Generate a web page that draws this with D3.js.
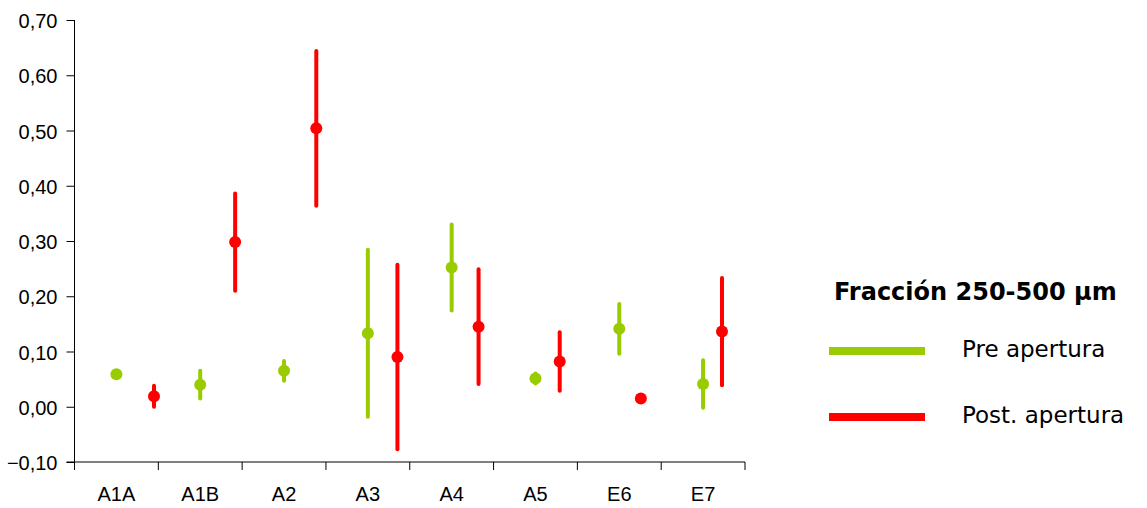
<!DOCTYPE html>
<html>
<head>
<meta charset="utf-8">
<script src="https://cdn.jsdelivr.net/npm/d3@7"></script>
<style>
  body { margin: 0; background: #fff; }
  svg { display: block; }
</style>
</head>
<body>
<div id="chart"></div>
<script>
// data
const categories = ["A1A", "A1B", "A2", "A3", "A4", "A5", "E6", "E7"];
const preMean  = [0.059, 0.040, 0.065, 0.133, 0.252, 0.051, 0.141, 0.041];
const preErr   = [0.004, 0.025, 0.018, 0.151, 0.078, 0.009, 0.045, 0.043];
const postMean = [0.019, 0.298, 0.504, 0.090, 0.145, 0.082, 0.015, 0.136];
const postErr  = [0.019, 0.088, 0.140, 0.167, 0.104, 0.053, 0.000, 0.097];
const yTicks = [-0.1, 0, 0.1, 0.2, 0.3, 0.4, 0.5, 0.6, 0.7];
const legendTitle = "Fracción 250-500 µm";
const seriesNames = ["Pre apertura", "Post. apertura"];
const seriesColors = ["#99cc00", "#ff0000"];

const width = 1147, height = 508;
const plot = {left: 74.5, right: 745, top: 20, bottom: 462};

const svg = d3.select("#chart").append("svg")
    .attr("width", width)
    .attr("height", height);

const y = d3.scaleLinear().domain([-0.1, 0.7]).range([plot.bottom, plot.top]);
const x = d3.scaleBand().domain(categories).range([plot.left, plot.right]).padding(0);
// post series sits on its own (slightly narrower) point scale
const xPost = d3.scalePoint().domain(categories).range([154, 722]);

const fmt = v => d3.format(".2f")(v).replace(".", ",");
const axisFont = "'Liberation Sans', Arial, sans-serif";

// y axis
const yAxis = svg.append("g")
    .attr("transform", `translate(${plot.left},0)`)
    .call(d3.axisLeft(y).tickValues(yTicks).tickFormat(fmt).tickSize(8).tickPadding(9));
yAxis.select(".domain").attr("d", `M0,${plot.top}V${plot.bottom + 8}`).attr("stroke", "#000");
yAxis.selectAll(".tick line").attr("stroke", "#000");
yAxis.selectAll(".tick text")
    .attr("font-family", axisFont)
    .attr("font-size", 20)
    .attr("fill", "#000")
    .attr("dy", "0.38em");

// x axis
const xAxis = svg.append("g")
    .attr("transform", `translate(0,${plot.bottom})`)
    .call(d3.axisBottom(x).tickSize(0).tickPadding(25));
xAxis.select(".domain").attr("d", `M${plot.left - 8},0H${plot.right}`).attr("stroke", "#000");
xAxis.selectAll(".tick text")
    .attr("font-family", axisFont)
    .attr("font-size", 20)
    .attr("fill", "#000");
// category separators
xAxis.selectAll(".sep")
    .data(categories)
    .enter().append("line")
    .attr("class", "sep")
    .attr("x1", d => x(d) + x.bandwidth())
    .attr("x2", d => x(d) + x.bandwidth())
    .attr("y1", 0).attr("y2", 8)
    .attr("stroke", "#000");

// series
const series = [
    {mean: preMean, err: preErr, xpos: (c) => x(c) + x.bandwidth() / 2, color: seriesColors[0]},
    {mean: postMean, err: postErr, xpos: (c) => xPost(c), color: seriesColors[1]}
];

series.forEach(s => {
    const pts = categories.map((c, i) => ({c: c, m: s.mean[i], e: s.err[i]}));
    const g = svg.append("g");
    g.selectAll(".err")
        .data(pts.filter(d => d.e > 0))
        .enter().append("line")
        .attr("class", "err")
        .attr("x1", d => s.xpos(d.c))
        .attr("x2", d => s.xpos(d.c))
        .attr("y1", d => y(d.m + d.e))
        .attr("y2", d => y(d.m - d.e))
        .attr("stroke", s.color)
        .attr("stroke-width", 4)
        .attr("stroke-linecap", "round");
    g.selectAll(".dot")
        .data(pts)
        .enter().append("circle")
        .attr("class", "dot")
        .attr("cx", d => s.xpos(d.c))
        .attr("cy", d => y(d.m))
        .attr("r", 6)
        .attr("fill", s.color);
});

// legend
const legend = svg.append("g");
legend.append("text")
    .attr("x", 834)
    .attr("y", 299.5)
    .attr("font-family", "'DejaVu Sans', sans-serif")
    .attr("font-weight", "bold")
    .attr("font-size", 24)
    .attr("fill", "#000")
    .text(legendTitle);

const legendY = [351, 417];
seriesNames.forEach((name, i) => {
    legend.append("line")
        .attr("x1", 829).attr("x2", 925)
        .attr("y1", legendY[i]).attr("y2", legendY[i])
        .attr("stroke", seriesColors[i])
        .attr("stroke-width", 8);
    legend.append("text")
        .attr("x", 962)
        .attr("y", legendY[i] + 5.5)
        .attr("font-family", "'DejaVu Sans', sans-serif")
        .attr("font-size", 23)
        .attr("fill", "#000")
        .text(name);
});
</script>
</body>
</html>
